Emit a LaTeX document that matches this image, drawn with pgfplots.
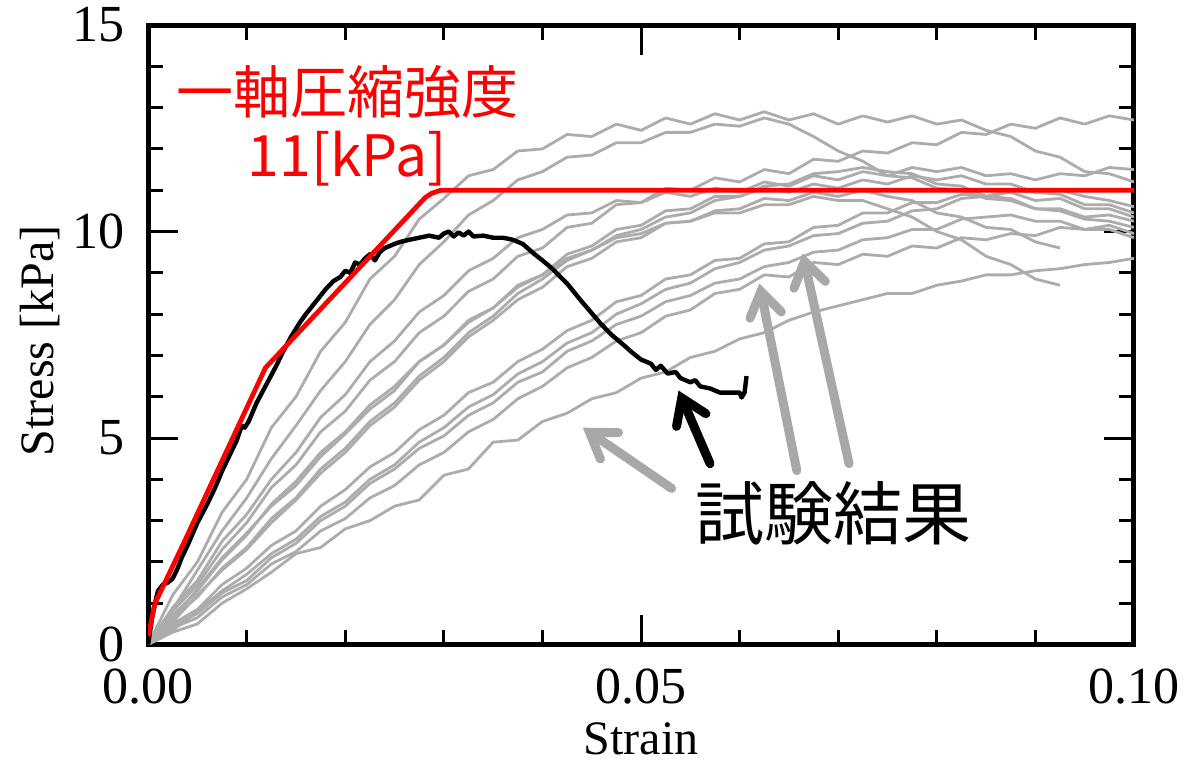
\documentclass[border=0pt]{standalone}
\usepackage{fontspec}
\setmainfont{Liberation Serif}
\newfontfamily\cjk{Noto Sans CJK JP}
\usepackage{pgfplots}
\pgfplotsset{compat=1.18}
\usepackage{pgfplotstable}
\usetikzlibrary{arrows.meta}
\definecolor{grayline}{RGB}{172,172,172}
\definecolor{grayarrow}{RGB}{168,168,168}

\pgfplotstableread{
x T1 T2 T3 M5 M1 M2 M3 M4 L1 L2 L3 L4 B1
0 0 0 0 0 0 0 0 0 0 0 0 0 0
0.0025 1.2 0.85 0.8 0.9 0.6 0.65 0.55 0.7 0.5 0.35 0.45 0.4 0.3
0.005 2.0 1.8 1.45 1.55 1.35 1.15 1.2 1.3 0.85 0.8 0.75 0.65 0.5
0.0075 3.2 2.75 2.3 2.5 2.1 1.85 1.8 2.05 1.45 1.3 1.25 1.15 1.0
0.01 4.0 3.55 2.95 3.15 2.7 2.35 2.3 2.65 1.85 1.7 1.55 1.45 1.35
0.0125 5.25 4.5 3.8 4.0 3.35 3.05 2.95 3.4 2.4 2.2 2.1 1.95 1.75
0.015 6.0 5.3 4.35 4.65 3.85 3.55 3.5 3.95 2.75 2.55 2.45 2.25 2.2
0.0175 7.1 6.15 5.15 5.5 4.55 4.25 4.15 4.65 3.35 3.1 3.0 2.75 2.35
0.02 7.8 6.85 5.65 6.05 5.1 4.75 4.65 5.15 3.75 3.45 3.35 3.05 2.8
0.0225 8.85 7.75 6.4 6.85 5.7 5.4 5.3 5.8 4.3 4.0 3.9 3.55 3.0
0.025 9.4 8.35 6.85 7.35 6.15 5.85 5.75 6.25 4.65 4.35 4.25 3.85 3.35
0.0275 10.3 9.2 7.55 8.05 6.85 6.5 6.4 6.85 5.2 4.9 4.75 4.35 3.5
0.03 10.8 9.75 7.95 8.45 7.25 6.95 6.85 7.25 5.55 5.25 5.05 4.65 4.1
0.0325 11.35 10.4 8.55 9.05 7.85 7.55 7.45 7.8 6.1 5.75 5.55 5.15 4.25
0.035 11.5 10.75 8.85 9.35 8.15 7.95 7.85 8.15 6.35 6.05 5.85 5.45 4.9
0.0375 11.95 11.25 9.4 9.85 8.7 8.5 8.35 8.65 6.85 6.55 6.35 5.95 4.95
0.04 12.0 11.45 9.6 10.05 8.95 8.85 8.65 8.95 7.15 6.85 6.6 6.25 5.4
0.0425 12.35 11.8 10.1 10.4 9.45 9.3 9.15 9.35 7.6 7.3 7.1 6.7 5.6
0.045 12.3 11.85 10.2 10.45 9.65 9.55 9.35 9.55 7.85 7.55 7.35 6.95 5.95
0.0475 12.6 12.15 10.65 10.75 10.05 9.9 9.75 9.85 8.3 8.0 7.75 7.35 6.1
0.05 12.45 12.15 10.7 10.7 10.15 10.05 9.85 9.95 8.45 8.25 7.95 7.55 6.45
0.0525 12.75 12.4 11.05 10.95 10.5 10.35 10.2 10.2 8.85 8.6 8.3 7.95 6.6
0.055 12.6 12.4 11.0 10.85 10.55 10.45 10.25 10.25 8.95 8.75 8.45 8.1 6.95
0.0575 12.85 12.6 11.3 11.05 10.85 10.75 10.5 10.45 9.3 9.1 8.75 8.5 7.1
0.06 12.7 12.55 11.2 10.95 10.85 10.85 10.55 10.45 9.35 9.25 8.85 8.6 7.4
0.0625 12.9 12.75 11.5 11.2 11.05 11.1 10.8 10.65 9.7 9.55 9.15 8.95 7.55
0.065 12.7 12.6 11.4 11.1 10.95 11.15 10.75 10.65 9.75 9.65 9.25 8.9 7.85
0.0675 12.85 12.3 11.75 11.35 11.15 11.4 10.95 10.85 10.1 9.9 9.5 9.25 8.05
0.07 12.6 11.95 11.7 11.25 11.05 11.45 10.85 10.75 10.15 9.95 9.55 9.2 8.2
0.0725 12.8 11.7 11.95 11.45 11.25 11.55 11.0 10.75 10.45 10.2 9.8 9.45 8.35
0.075 12.65 11.35 11.9 11.35 11.15 11.45 10.85 10.55 10.45 10.25 9.85 9.4 8.5
0.0775 12.8 11.3 12.15 11.55 11.35 11.4 10.75 10.35 10.7 10.5 10.05 9.65 8.5
0.08 12.6 11.05 12.1 11.45 11.25 11.15 10.45 10.0 10.7 10.55 10.05 9.6 8.7
0.0825 12.7 11.0 12.4 11.55 11.35 11.1 10.35 9.8 10.9 10.8 10.3 9.85 8.8
0.085 12.45 10.8 12.35 11.35 11.15 10.85 10.1 9.4 10.85 10.85 10.35 9.8 8.95
0.0875 12.3 10.75 12.6 11.4 11.15 10.8 10.05 9.2 10.95 11.0 10.4 9.95 8.95
0.09 11.95 10.55 12.5 11.25 10.95 10.55 9.75 8.85 10.75 10.95 10.25 9.9 9.05
0.0925 11.8 10.5 12.75 11.4 10.9 10.55 9.6 8.7 10.8 11.0 10.25 10.1 9.1
0.095 11.45 10.3 12.6 11.35 10.65 10.35 nan nan 10.55 10.85 10.05 10.05 9.2
0.0975 11.4 10.25 12.8 11.55 10.65 10.4 nan nan 10.55 10.75 10.05 10.15 9.25
0.1 11.2 10.1 12.7 11.5 10.45 10.25 nan nan 10.35 10.6 9.85 9.95 9.35
}\curves

\pgfplotstableread{
x y
0 0
0.0005 0.8
0.001 1.3
0.0015 1.45
0.002 1.5
0.0025 1.6
0.003 1.85
0.0034 2.1
0.004 2.4
0.005 2.95
0.006 3.4
0.0068 3.8
0.0075 4.2
0.0085 4.7
0.009 4.95
0.0095 5.3
0.0098 5.25
0.0102 5.4
0.011 5.85
0.012 6.3
0.013 6.75
0.0137 7.1
0.0145 7.45
0.0154 7.8
0.016 8.0
0.017 8.3
0.018 8.6
0.0188 8.8
0.0195 8.9
0.02 9.05
0.0205 9.0
0.021 9.25
0.0215 9.2
0.022 9.35
0.0225 9.45
0.023 9.3
0.0235 9.5
0.024 9.6
0.025 9.7
0.0256 9.75
0.0265 9.8
0.0275 9.85
0.0285 9.9
0.0295 9.85
0.030 9.95
0.0305 10.0
0.031 9.88
0.0315 9.98
0.032 9.9
0.0325 10.0
0.033 9.88
0.034 9.9
0.035 9.85
0.036 9.85
0.037 9.8
0.038 9.7
0.0391 9.47
0.040 9.3
0.041 9.1
0.0425 8.74
0.044 8.3
0.0459 7.77
0.047 7.5
0.048 7.3
0.0492 7.05
0.050 6.9
0.051 6.8
0.0515 6.65
0.052 6.75
0.0527 6.56
0.0535 6.6
0.054 6.45
0.055 6.35
0.0555 6.4
0.056 6.25
0.057 6.2
0.058 6.1
0.059 6.1
0.060 6.1
0.0602 5.98
0.0605 6.1
0.0607 6.5
}\blackcurve

\pgfplotstableread{
x y
0 0.2
0.0007 1.0
0.0034 2.35
0.0119 6.7
0.0281 10.82
0.0288 10.93
0.0297 11.0
0.1 11.0
}\redline

\begin{document}
\begin{tikzpicture}
\useasboundingbox (-74pt,-59.5pt) rectangle (524.5pt,322pt);
\begin{axis}[
  scale only axis,
  width=492.5pt, height=309.5pt,
  xmin=0, xmax=0.1, ymin=0, ymax=15,
  xtick={0,0.05,0.1}, ytick={0,5,10,15},
  minor x tick num=4, minor y tick num=4,
  tick align=inside,
  major tick length=15pt, minor tick length=7.5pt,
  axis line style={line width=2.5pt},
  tick style={black, line width=1.5pt},
  scaled x ticks=false,
  /pgf/number format/assume math mode=true,
  xticklabel style={inner sep=1pt, yshift=-11pt, /pgf/number format/.cd, fixed, fixed zerofill, precision=2},
  ticklabel style={font=\fontsize{26}{30}\selectfont},
  yticklabel style={inner sep=1pt, xshift=-10.5pt},
  xlabel={Strain}, ylabel={Stress [kPa]},
  every axis x label/.style={at={(axis description cs:0.5,0)}, yshift=-47pt, anchor=center, inner sep=1pt, font=\fontsize{24}{28}\selectfont},
  every axis y label/.style={at={(axis description cs:0,0.49)}, xshift=-54pt, rotate=90, anchor=center, inner sep=1pt, font=\fontsize{24}{28}\selectfont},
]
\pgfplotsinvokeforeach{T1,T2,T3,M5,M1,M2,M3,M4,L1,L2,L3,L4,B1}{
  \addplot[grayline, line width=1.4pt, line join=round] table[x=x, y=#1] {\curves};
}
\addplot[black, line width=2.2pt, line join=round] table[x=x, y=y] {\blackcurve};
\addplot[red, line width=2.4pt, line join=round] table[x=x, y=y] {\redline};

\draw[grayarrow, line width=4.5pt, line cap=round, -{Straight Barb[length=12pt, width=16pt, line cap=round]}] (axis cs:0.0531,3.78) -- (axis cs:0.0441,5.25);
\draw[grayarrow, line width=4.5pt, line cap=round, -{Straight Barb[length=12pt, width=16pt, line cap=round]}] (axis cs:0.0658,4.21) -- (axis cs:0.0620,8.74);
\draw[grayarrow, line width=4.5pt, line cap=round, -{Straight Barb[length=12pt, width=16pt, line cap=round]}] (axis cs:0.0711,4.38) -- (axis cs:0.0664,9.47);
\draw[black, line width=4.5pt, line cap=round, -{Straight Barb[length=12pt, width=16pt, line cap=round]}] (axis cs:0.0570,4.38) -- (axis cs:0.0538,6.15);

\node[red, font=\cjk\fontsize{28.5}{30}\selectfont] at (axis cs:0.0202,13.37) {一軸圧縮強度};
\node[red, font=\cjk\fontsize{28.5}{30}\selectfont] at (axis cs:0.0202,11.77) {11[kPa]};
\node[black, font=\cjk\fontsize{34.5}{36}\selectfont] at (axis cs:0.0695,3.17) {試験結果};
\end{axis}
\end{tikzpicture}
\end{document}
